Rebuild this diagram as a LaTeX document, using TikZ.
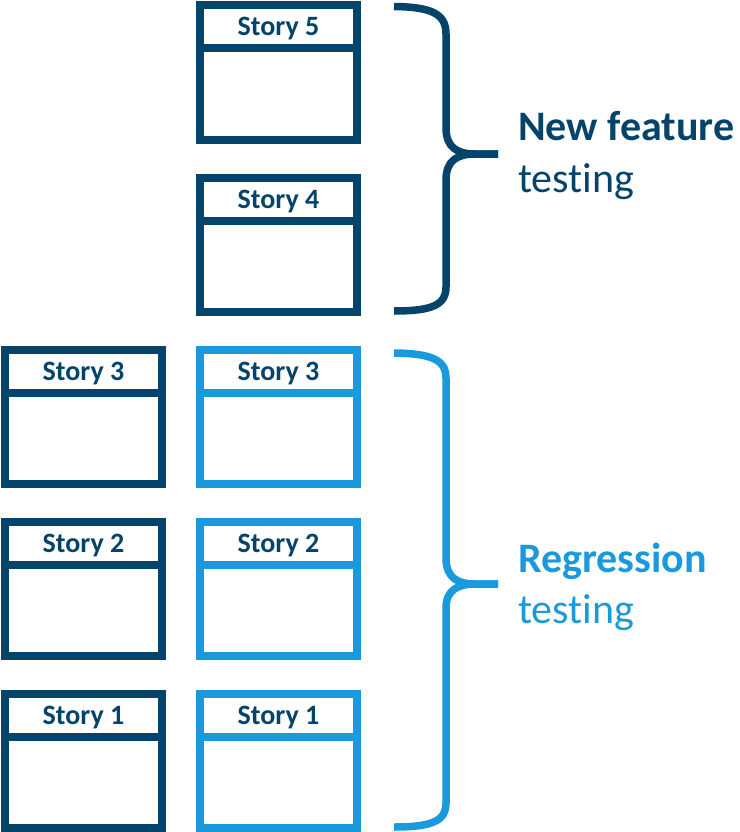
\documentclass[tikz,border=0pt]{standalone}
\usepackage{fontspec}
\setmainfont{Carlito}[Ligatures={NoCommon}]
\usetikzlibrary{calc}
\definecolor{navy}{HTML}{04446A}
\definecolor{sky}{HTML}{1A9ADC}
\begin{document}
\begin{tikzpicture}[x=1pt,y=-1pt,
  storybox/.style={draw=#1, line width=8pt, minimum width=157pt, minimum height=134pt, inner sep=0pt, outer sep=0pt, anchor=north west},
  storylabel/.style={font=\fontsize{28}{30}\selectfont\bfseries, text=navy, anchor=base, inner sep=0pt},
  divider/.style={draw=#1, line width=8pt},
  bracepath/.style={draw=#1, line width=7.5pt},
  bigbold/.style={font=\fontsize{42}{48}\selectfont\bfseries, text=#1, anchor=base west, inner sep=0pt},
  bigreg/.style={font=\fontsize{42}{48}\selectfont, text=#1, anchor=base west, inner sep=0pt}]
\useasboundingbox (0,0) rectangle (739,832);
% boxes
\foreach \nm/\x/\y/\col/\lab in {r5/200/5.5/navy/5, r4/200/177.5/navy/4, r3/200/349.5/sky/3, r2/200/521.5/sky/2, r1/200/693.5/sky/1,
  l3/5/349.5/navy/3, l2/5/521.5/navy/2, l1/5/693.5/navy/1}{
  \node[storybox=\col] (\nm) at (\x,\y) {};
  \draw[divider=\col] ([yshift=-43pt]\nm.north west) -- ([yshift=-43pt]\nm.north east);
  \node[storylabel] (\nm t) at ([yshift=-30.5pt]\nm.north) {Story \lab};
}
% braces
\draw[bracepath=navy] (394,6.5) .. controls (432,7) and (446,14) .. (446,34) -- (446,128)
  .. controls (446,148) and (458,154) .. (475,154) -- (498,154);
\draw[bracepath=navy] (498,154) -- (475,154) .. controls (458,154) and (446,160) .. (446,180) -- (446,287)
  .. controls (446,305) and (432,311) .. (394,311);
\draw[bracepath=sky] (394,353) .. controls (432,353.5) and (446,360) .. (446,378) -- (446,558)
  .. controls (446,578) and (458,584) .. (475,584) -- (498,584);
\draw[bracepath=sky] (498,584) -- (475,584) .. controls (458,584) and (446,590) .. (446,608) -- (446,803)
  .. controls (446,821) and (432,827) .. (394,827);
% labels
\node[bigbold=navy] (nf) at (518,140) {New feature};
\node[bigreg=navy] (nft) at (518,192) {testing};
\node[bigbold=sky] (rg) at (518,572) {Regression};
\node[bigreg=sky] (rgt) at (518,623) {testing};
\end{tikzpicture}
\end{document}
